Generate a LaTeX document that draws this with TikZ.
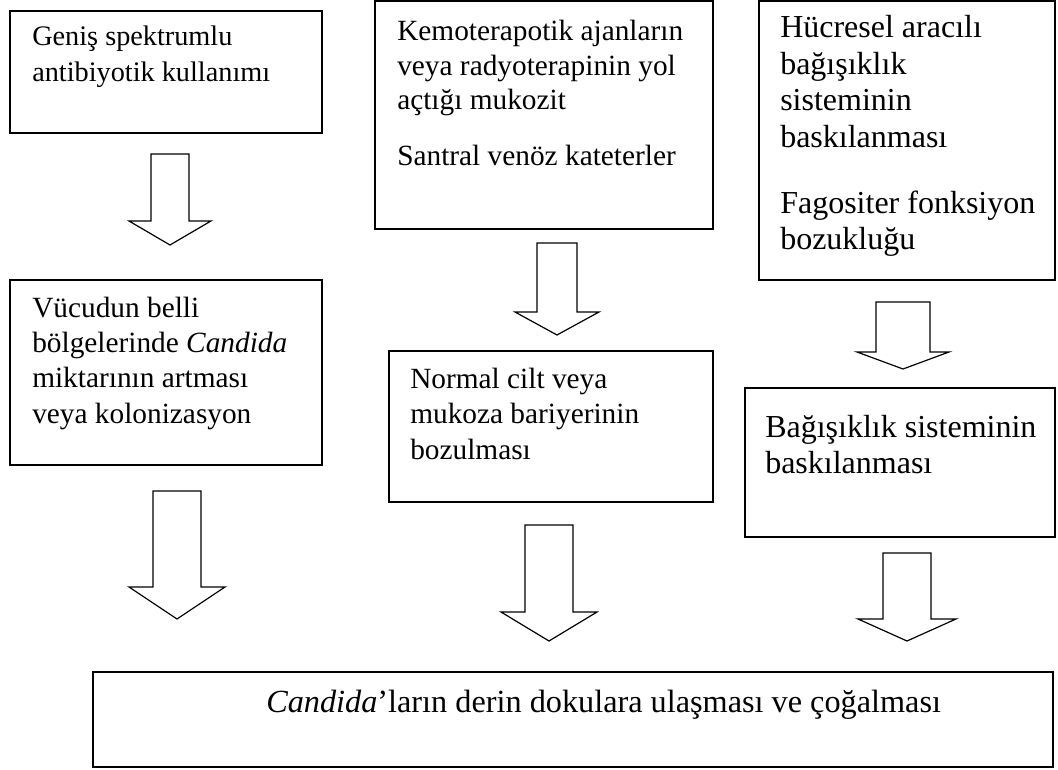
\documentclass[tikz,border=0pt]{standalone}
\usepackage{fontspec}
\setmainfont{Liberation Serif}
\newcommand\blockarr[7]{%
  \draw[arrowshape] ({#2-#6},#3) coordinate (#1-top) -- ({#2+#6},#3) -- ({#2+#6},#4) -- ({#2+#7},#4)
    -- (#2,#5) coordinate (#1-tip) -- ({#2-#7},#4) -- ({#2-#6},#4) -- cycle;}
\begin{document}
\begin{tikzpicture}[x=0.75pt,y=-0.75pt,
  boxshape/.style={draw=black,line width=1.1pt,fill=none},
  arrowshape/.style={draw=black,line width=0.9pt,fill=white,line join=miter},
  txt/.style={anchor=base west,inner sep=0pt,align=left}]
\useasboundingbox[fill=white] (0,0) rectangle (1058,770);
% boxes
\draw[boxshape] (10,11) rectangle (322,133);
\draw[boxshape] (375,0.8) rectangle (713,229);
\draw[boxshape] (759,0.8) rectangle (1055,280);
\draw[boxshape] (10,280) rectangle (322,465);
\draw[boxshape] (389,351) rectangle (713,502);
\draw[boxshape] (745,388) rectangle (1055,537);
\draw[boxshape] (93,672) rectangle (1053,767);
% texts (anchored at the baseline of their last line)
\node[txt,font=\fontsize{21.2}{27}\selectfont] (t1) at (32,82) {Geniş spektrumlu\\antibiyotik kullanımı};
\node[txt,font=\fontsize{22}{25.6}\selectfont] (t2) at (397,166) {Kemoterapotik ajanların\\veya radyoterapinin yol\\açtığı mukozit\\[17pt]Santral venöz kateterler};
\node[txt,font=\fontsize{24}{27.5}\selectfont] (t3) at (780,250) {Hücresel aracılı\\bağışıklık\\sisteminin\\baskılanması\\[22pt]Fagositer fonksiyon\\bozukluğu};
\node[txt,font=\fontsize{22}{26.5}\selectfont] (t4) at (32,423) {Vücudun belli\\bölgelerinde \textit{Candida}\\miktarının artması\\veya kolonizasyon};
\node[txt,font=\fontsize{22}{26.3}\selectfont] (t5) at (410,459) {Normal cilt veya\\mukoza bariyerinin\\bozulması};
\node[txt,font=\fontsize{24}{27}\selectfont] (t6) at (765,473) {Bağışıklık sisteminin\\baskılanması};
\node[txt,font=\fontsize{24.2}{27}\selectfont] (t7) at (266,712) {\textit{Candida}’ların derin dokulara ulaşması ve çoğalması};
% block arrows
\blockarr{a1}{170}{154}{221}{245}{19}{41}
\blockarr{a2}{557}{243}{312}{335}{20}{42}
\blockarr{a3}{903}{302}{352}{369}{27}{46}
\blockarr{a4}{177}{491}{587}{619}{24}{48}
\blockarr{a5}{549}{525}{612}{641}{24}{48}
\blockarr{a6}{907}{553}{619}{641}{24}{49}
\end{tikzpicture}
\end{document}
